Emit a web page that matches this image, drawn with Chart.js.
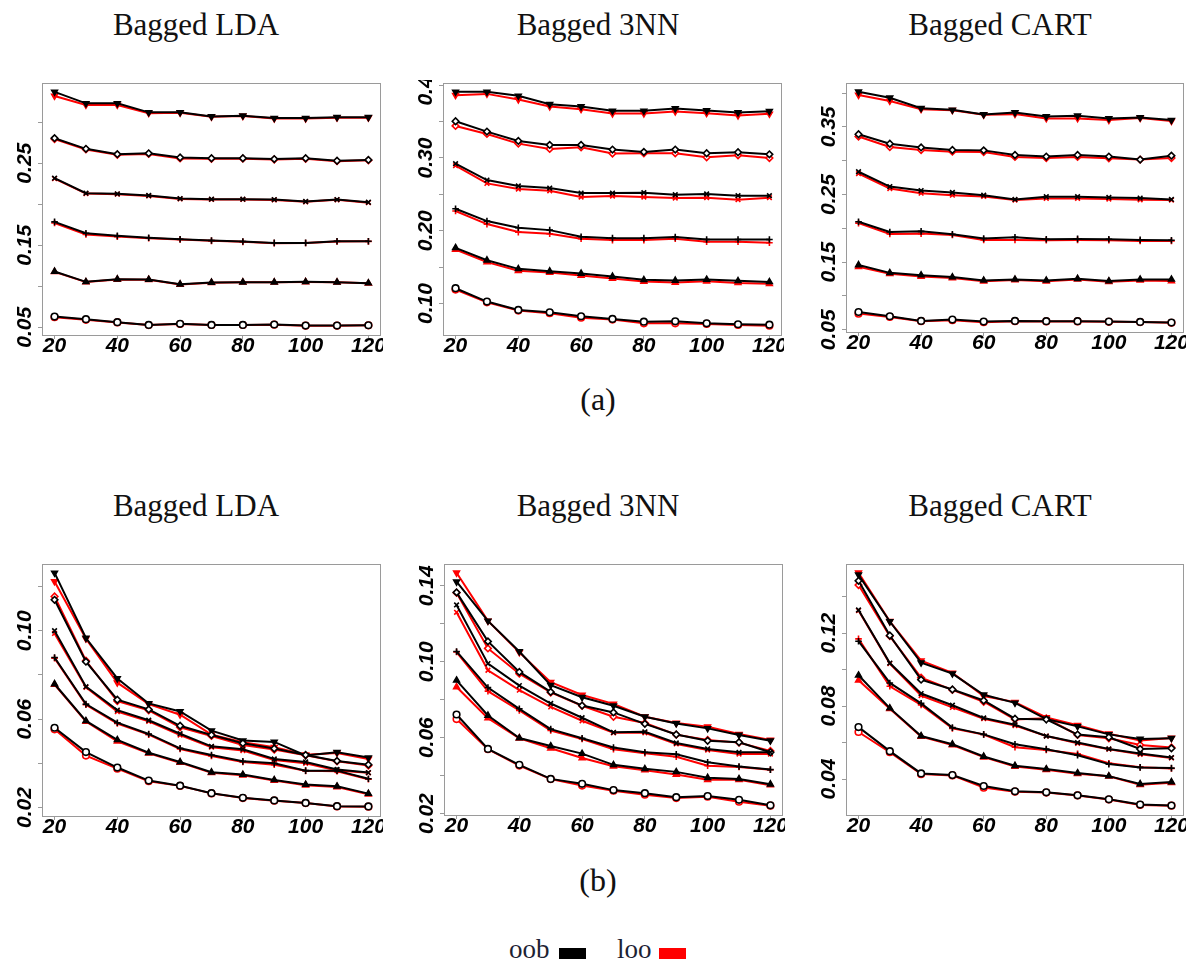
<!DOCTYPE html>
<html>
<head>
<meta charset="utf-8">
<script src="https://cdn.jsdelivr.net/npm/chart.js@4"></script>
<style>
  body { margin: 0; background: #fff; }
  #page { position: relative; width: 1198px; height: 967px; overflow: hidden; }
  canvas { position: absolute; }
  .t { position: absolute; font-family: "Liberation Serif", "Times New Roman", serif; color: #111; white-space: nowrap; line-height: 1; }
  .ttl { font-size: 31px; transform: translateX(-50%); }
  .cap { font-size: 32px; transform: translateX(-50%); }
  .leg { font-size: 27px; color: #1c2233; }
  .sw { position: absolute; width: 27px; height: 11px; }
</style>
</head>
<body>
<div id="page">
  <div class="t ttl" style="left:196px; top:9px">Bagged LDA</div>
  <div class="t ttl" style="left:598px; top:9px">Bagged 3NN</div>
  <div class="t ttl" style="left:1000px; top:9px">Bagged CART</div>
  <canvas id="c1" width="383" height="290" style="left:0px; top:80px"></canvas>
  <canvas id="c2" width="383" height="290" style="left:401px; top:80px"></canvas>
  <canvas id="c3" width="382" height="287" style="left:804px; top:80px"></canvas>
  <div class="t cap" style="left:598px; top:383px">(a)</div>

  <div class="t ttl" style="left:196px; top:490px">Bagged LDA</div>
  <div class="t ttl" style="left:598px; top:490px">Bagged 3NN</div>
  <div class="t ttl" style="left:1000px; top:490px">Bagged CART</div>
  <canvas id="c4" width="383" height="290" style="left:0px; top:561px"></canvas>
  <canvas id="c5" width="383" height="289" style="left:402px; top:561px"></canvas>
  <canvas id="c6" width="382" height="289" style="left:804px; top:561px"></canvas>
  <div class="t cap" style="left:598px; top:864px">(b)</div>

  <div class="t leg" style="left:509px; top:936px">oob</div>
  <div class="sw" style="left:559px; top:948px; background:#000"></div>
  <div class="t leg" style="left:617px; top:936px">loo</div>
  <div class="sw" style="left:659px; top:948px; background:#f00"></div>
</div>
<script>
// number of classifiers in the ensemble (x axis)
const ns = [20, 30, 40, 50, 60, 70, 80, 90, 100, 110, 120];

// rows, bottom to top: circle, triangle, plus, cross, diamond, down triangle
// (a) Bagged LDA
const ldaA_oob = [
  [0.0630, 0.0598, 0.0561, 0.0528, 0.0541, 0.0528, 0.0528, 0.0533, 0.0520, 0.0520, 0.0524],
  [0.1179, 0.1053, 0.1085, 0.1081, 0.1024, 0.1045, 0.1049, 0.1049, 0.1053, 0.1049, 0.1037],
  [0.1785, 0.1646, 0.1614, 0.1590, 0.1573, 0.1557, 0.1545, 0.1528, 0.1528, 0.1549, 0.1549],
  [0.2317, 0.2134, 0.2126, 0.2106, 0.2069, 0.2061, 0.2061, 0.2057, 0.2033, 0.2057, 0.2024],
  [0.2805, 0.2675, 0.2610, 0.2620, 0.2570, 0.2560, 0.2560, 0.2550, 0.2560, 0.2530, 0.2540],
  [0.3370, 0.3230, 0.3230, 0.3120, 0.3120, 0.3070, 0.3080, 0.3050, 0.3050, 0.3060, 0.3060]
];
const ldaA_loo = [
  [0.0622, 0.0590, 0.0558, 0.0526, 0.0539, 0.0527, 0.0527, 0.0531, 0.0519, 0.0519, 0.0523],
  [0.1175, 0.1050, 0.1082, 0.1079, 0.1021, 0.1043, 0.1047, 0.1047, 0.1051, 0.1047, 0.1035],
  [0.1770, 0.1630, 0.1605, 0.1585, 0.1570, 0.1553, 0.1541, 0.1525, 0.1526, 0.1546, 0.1547],
  [0.2312, 0.2129, 0.2122, 0.2101, 0.2064, 0.2058, 0.2058, 0.2052, 0.2029, 0.2053, 0.2019],
  [0.2795, 0.2668, 0.2603, 0.2613, 0.2558, 0.2553, 0.2555, 0.2545, 0.2553, 0.2525, 0.2535],
  [0.3320, 0.3210, 0.3210, 0.3110, 0.3115, 0.3065, 0.3075, 0.3045, 0.3045, 0.3055, 0.3055]
];
// (a) Bagged 3NN
const nnA_oob = [
  [0.1211, 0.1028, 0.0913, 0.0881, 0.0826, 0.0789, 0.0752, 0.0757, 0.0729, 0.0716, 0.0711],
  [0.1766, 0.1596, 0.1477, 0.1445, 0.1413, 0.1372, 0.1326, 0.1317, 0.1330, 0.1312, 0.1298],
  [0.2303, 0.2133, 0.2041, 0.2009, 0.1917, 0.1899, 0.1899, 0.1913, 0.1881, 0.1881, 0.1881],
  [0.2922, 0.2697, 0.2615, 0.2587, 0.2518, 0.2518, 0.2523, 0.2495, 0.2505, 0.2482, 0.2482],
  [0.3505, 0.3362, 0.3234, 0.3179, 0.3179, 0.3115, 0.3083, 0.3115, 0.3064, 0.3078, 0.3050],
  [0.3908, 0.3908, 0.3853, 0.3739, 0.3706, 0.3647, 0.3647, 0.3679, 0.3651, 0.3624, 0.3642]
];
const nnA_loo = [
  [0.1193, 0.1018, 0.0904, 0.0867, 0.0807, 0.0780, 0.0729, 0.0729, 0.0720, 0.0706, 0.0697],
  [0.1743, 0.1569, 0.1450, 0.1427, 0.1385, 0.1344, 0.1303, 0.1289, 0.1307, 0.1284, 0.1271],
  [0.2271, 0.2092, 0.1982, 0.1959, 0.1890, 0.1872, 0.1872, 0.1890, 0.1849, 0.1849, 0.1835],
  [0.2894, 0.2651, 0.2573, 0.2550, 0.2463, 0.2477, 0.2463, 0.2450, 0.2454, 0.2427, 0.2454],
  [0.3440, 0.3330, 0.3197, 0.3124, 0.3147, 0.3060, 0.3064, 0.3064, 0.3009, 0.3037, 0.3000],
  [0.3862, 0.3880, 0.3803, 0.3706, 0.3670, 0.3610, 0.3610, 0.3638, 0.3615, 0.3583, 0.3606]
];
// (a) Bagged CART
const cartA_oob = [
  [0.0763, 0.0700, 0.0631, 0.0651, 0.0622, 0.0631, 0.0627, 0.0627, 0.0622, 0.0617, 0.0607],
  [0.1459, 0.1342, 0.1308, 0.1279, 0.1230, 0.1245, 0.1230, 0.1255, 0.1221, 0.1245, 0.1245],
  [0.2097, 0.1946, 0.1956, 0.1912, 0.1849, 0.1868, 0.1839, 0.1844, 0.1839, 0.1829, 0.1824],
  [0.2837, 0.2618, 0.2559, 0.2530, 0.2491, 0.2428, 0.2467, 0.2467, 0.2457, 0.2447, 0.2428],
  [0.3392, 0.3251, 0.3197, 0.3158, 0.3153, 0.3085, 0.3061, 0.3085, 0.3061, 0.3017, 0.3075],
  [0.4020, 0.3932, 0.3777, 0.3752, 0.3684, 0.3713, 0.3655, 0.3665, 0.3626, 0.3640, 0.3601]
];
const cartA_loo = [
  [0.0739, 0.0690, 0.0627, 0.0641, 0.0612, 0.0626, 0.0623, 0.0623, 0.0618, 0.0614, 0.0604],
  [0.1430, 0.1328, 0.1289, 0.1264, 0.1216, 0.1235, 0.1216, 0.1245, 0.1211, 0.1230, 0.1221],
  [0.2077, 0.1917, 0.1922, 0.1902, 0.1829, 0.1829, 0.1824, 0.1829, 0.1824, 0.1814, 0.1814],
  [0.2808, 0.2589, 0.2520, 0.2491, 0.2472, 0.2418, 0.2443, 0.2443, 0.2433, 0.2423, 0.2418],
  [0.3358, 0.3202, 0.3158, 0.3134, 0.3129, 0.3056, 0.3041, 0.3056, 0.3037, 0.3017, 0.3041],
  [0.3971, 0.3884, 0.3762, 0.3747, 0.3679, 0.3689, 0.3626, 0.3626, 0.3601, 0.3630, 0.3587]
];
// (b) Bagged LDA
const ldaB_oob = [
  [0.0561, 0.0451, 0.0381, 0.0322, 0.0299, 0.0265, 0.0244, 0.0232, 0.0221, 0.0206, 0.0205],
  [0.0759, 0.0592, 0.0506, 0.0448, 0.0406, 0.0360, 0.0349, 0.0325, 0.0304, 0.0296, 0.0263],
  [0.0879, 0.0668, 0.0584, 0.0533, 0.0468, 0.0438, 0.0409, 0.0400, 0.0367, 0.0367, 0.0330],
  [0.1000, 0.0747, 0.0641, 0.0595, 0.0534, 0.0477, 0.0464, 0.0420, 0.0406, 0.0372, 0.0358],
  [0.1140, 0.0860, 0.0688, 0.0644, 0.0570, 0.0528, 0.0491, 0.0467, 0.0438, 0.0411, 0.0394],
  [0.1262, 0.0967, 0.0784, 0.0671, 0.0635, 0.0548, 0.0503, 0.0497, 0.0436, 0.0450, 0.0426]
];
const ldaB_loo = [
  [0.0554, 0.0435, 0.0376, 0.0319, 0.0298, 0.0264, 0.0243, 0.0231, 0.0220, 0.0205, 0.0204],
  [0.0756, 0.0589, 0.0500, 0.0445, 0.0403, 0.0357, 0.0346, 0.0322, 0.0301, 0.0293, 0.0260],
  [0.0876, 0.0665, 0.0580, 0.0530, 0.0465, 0.0433, 0.0406, 0.0394, 0.0366, 0.0364, 0.0328],
  [0.0988, 0.0744, 0.0634, 0.0590, 0.0528, 0.0473, 0.0458, 0.0415, 0.0400, 0.0367, 0.0357],
  [0.1155, 0.0864, 0.0682, 0.0640, 0.0563, 0.0524, 0.0483, 0.0462, 0.0436, 0.0409, 0.0390],
  [0.1223, 0.0964, 0.0765, 0.0668, 0.0620, 0.0530, 0.0495, 0.0473, 0.0439, 0.0447, 0.0420]
];
// (b) Bagged 3NN
const nnB_oob = [
  [0.0722, 0.0541, 0.0457, 0.0383, 0.0357, 0.0324, 0.0308, 0.0287, 0.0293, 0.0273, 0.0244],
  [0.0902, 0.0717, 0.0598, 0.0556, 0.0516, 0.0457, 0.0436, 0.0420, 0.0389, 0.0383, 0.0355],
  [0.1054, 0.0864, 0.0752, 0.0645, 0.0597, 0.0548, 0.0523, 0.0513, 0.0471, 0.0448, 0.0432],
  [0.1299, 0.0990, 0.0874, 0.0780, 0.0705, 0.0628, 0.0631, 0.0572, 0.0541, 0.0523, 0.0523],
  [0.1365, 0.1107, 0.0946, 0.0841, 0.0769, 0.0733, 0.0673, 0.0617, 0.0584, 0.0576, 0.0523],
  [0.1421, 0.1215, 0.1054, 0.0876, 0.0813, 0.0768, 0.0710, 0.0675, 0.0649, 0.0614, 0.0584]
];
const nnB_loo = [
  [0.0698, 0.0539, 0.0453, 0.0382, 0.0348, 0.0321, 0.0300, 0.0282, 0.0289, 0.0263, 0.0242],
  [0.0867, 0.0703, 0.0597, 0.0544, 0.0493, 0.0450, 0.0429, 0.0406, 0.0378, 0.0378, 0.0350],
  [0.1051, 0.0845, 0.0743, 0.0638, 0.0593, 0.0539, 0.0518, 0.0500, 0.0452, 0.0446, 0.0431],
  [0.1260, 0.0955, 0.0850, 0.0762, 0.0689, 0.0626, 0.0626, 0.0567, 0.0535, 0.0514, 0.0514],
  [0.1363, 0.1070, 0.0937, 0.0838, 0.0768, 0.0710, 0.0677, 0.0616, 0.0588, 0.0574, 0.0530],
  [0.1468, 0.1215, 0.1049, 0.0892, 0.0825, 0.0778, 0.0710, 0.0677, 0.0658, 0.0619, 0.0588]
];
// (b) Bagged CART
const cartB_oob = [
  [0.0685, 0.0553, 0.0431, 0.0422, 0.0362, 0.0333, 0.0327, 0.0311, 0.0289, 0.0260, 0.0255],
  [0.0969, 0.0789, 0.0636, 0.0591, 0.0524, 0.0473, 0.0455, 0.0433, 0.0416, 0.0373, 0.0384],
  [0.1156, 0.0927, 0.0815, 0.0682, 0.0645, 0.0591, 0.0564, 0.0531, 0.0482, 0.0464, 0.0460],
  [0.1327, 0.1036, 0.0869, 0.0805, 0.0735, 0.0698, 0.0636, 0.0600, 0.0565, 0.0540, 0.0518],
  [0.1487, 0.1187, 0.0945, 0.0891, 0.0831, 0.0731, 0.0727, 0.0644, 0.0629, 0.0565, 0.0569],
  [0.1520, 0.1264, 0.1038, 0.0978, 0.0862, 0.0818, 0.0729, 0.0689, 0.0645, 0.0620, 0.0624]
];
const cartB_loo = [
  [0.0658, 0.0547, 0.0427, 0.0420, 0.0353, 0.0331, 0.0326, 0.0310, 0.0288, 0.0258, 0.0254],
  [0.0942, 0.0785, 0.0633, 0.0587, 0.0520, 0.0469, 0.0451, 0.0429, 0.0415, 0.0369, 0.0380],
  [0.1169, 0.0909, 0.0807, 0.0678, 0.0644, 0.0575, 0.0560, 0.0538, 0.0487, 0.0465, 0.0458],
  [0.1324, 0.1033, 0.0858, 0.0793, 0.0731, 0.0693, 0.0636, 0.0596, 0.0564, 0.0536, 0.0516],
  [0.1464, 0.1184, 0.0956, 0.0889, 0.0824, 0.0727, 0.0733, 0.0642, 0.0624, 0.0587, 0.0573],
  [0.1531, 0.1265, 0.1049, 0.0982, 0.0855, 0.0822, 0.0738, 0.0695, 0.0649, 0.0611, 0.0625]
];

// labelled y ticks (R drops the ones that would overlap)
const ldaA_ylab = ['0.05', '0.15', '0.25'];
const nnA_ylab = ['0.10', '0.20', '0.30', '0.40'];
const cartA_ylab = ['0.05', '0.15', '0.25', '0.35'];
const ldaB_ylab = ['0.02', '0.06', '0.10'];
const nnB_ylab = ['0.02', '0.06', '0.10', '0.14'];
const cartB_ylab = ['0.04', '0.08', '0.12'];

// pch 1..6 look
const marks = ['circle', 'triangle', 'cross', 'crossRot', 'rectRot', 'triangle'];
const turns = [0, 0, 0, 0, 0, 180];
const solid = [false, true, false, false, false, true];

// R pads the data range by 4% on each side
function rRange(rows) {
    const all = rows.flat();
    const lo = Math.min(...all), hi = Math.max(...all);
    const d = (hi - lo) * 0.04;
    return [lo - d, hi + d];
}

function line(vals, i, col) {
    return {
        data: ns.map((n, j) => ({x: n, y: vals[j]})),
        borderColor: col,
        borderWidth: 2,
        pointStyle: marks[i],
        pointRotation: turns[i],
        pointRadius: 3.3,
        pointBorderWidth: 1.6,
        pointBorderColor: col,
        pointBackgroundColor: solid[i] ? col : '#fff',
        tension: 0
    };
}

const boxPlugin = {
    id: 'box',
    beforeDatasetsDraw(chart) {
        const a = chart.chartArea;
        const c = chart.ctx;
        c.save();
        c.strokeStyle = '#9a9a9a';
        c.lineWidth = 1;
        c.strokeRect(Math.round(a.left) + 0.5, Math.round(a.top) + 0.5,
                     Math.round(a.right - a.left) - 1, Math.round(a.bottom - a.top) - 1);
        c.restore();
    }
};

const tickFont = {family: 'Liberation Sans', size: 21, weight: 'bold', style: 'italic', lineHeight: 1};

function makePanel(id, oob, loo, step, ylab, padRight) {
    const [lo, hi] = rRange(oob.concat(loo));
    // black (oob) first so it is drawn over the red (loo)
    const sets = oob.map((v, i) => line(v, i, '#000')).concat(loo.map((v, i) => line(v, i, '#f00')));
    return new Chart(document.getElementById(id), {
        type: 'line',
        data: {datasets: sets},
        plugins: [boxPlugin],
        options: {
            responsive: false,
            animation: false,
            devicePixelRatio: 1,
            layout: {padding: {top: 2, right: padRight, left: 0, bottom: 0}, autoPadding: false},
            plugins: {legend: {display: false}, tooltip: {enabled: false}},
            scales: {
                x: {
                    type: 'linear',
                    min: 16, max: 124,
                    afterFit: s => { s.height = 35; },
                    border: {display: false},
                    grid: {drawOnChartArea: false, drawTicks: true, tickLength: 4, color: '#9a9a9a'},
                    ticks: {stepSize: 20, includeBounds: false, color: '#000', font: tickFont,
                            padding: -3, maxRotation: 0, autoSkip: false}
                },
                y: {
                    type: 'linear',
                    min: lo, max: hi,
                    afterFit: s => { s.width = 42; },
                    border: {display: false},
                    grid: {drawOnChartArea: false, drawTicks: true, tickLength: 4, color: '#9a9a9a'},
                    ticks: {
                        stepSize: step, includeBounds: false, color: '#000', font: tickFont,
                        minRotation: 90, maxRotation: 90, crossAlign: 'center', padding: -8,
                        autoSkip: false,
                        callback: v => ylab.includes(v.toFixed(2)) ? v.toFixed(2) : ''
                    }
                }
            }
        }
    });
}

makePanel('c1', ldaA_oob, ldaA_loo, 0.05, ldaA_ylab, 2);
makePanel('c2', nnA_oob, nnA_loo, 0.05, nnA_ylab, 2);
makePanel('c3', cartA_oob, cartA_loo, 0.05, cartA_ylab, 1);
makePanel('c4', ldaB_oob, ldaB_loo, 0.02, ldaB_ylab, 2);
makePanel('c5', nnB_oob, nnB_loo, 0.02, nnB_ylab, 2);
makePanel('c6', cartB_oob, cartB_loo, 0.02, cartB_ylab, 1);
</script>
</body>
</html>
